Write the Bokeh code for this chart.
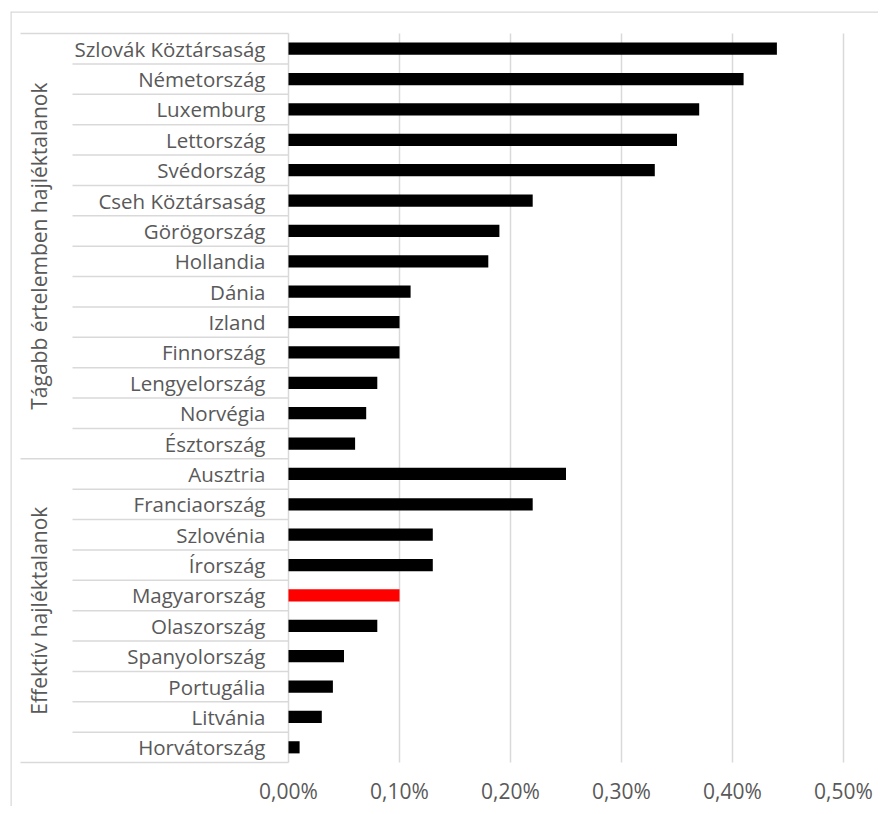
import math
from bokeh.plotting import figure
from bokeh.models import Range1d, FixedTicker, ColumnDataSource, CustomJSTickFormatter
from bokeh.core.properties import value
from bokeh.embed import file_html
from bokeh.resources import INLINE

# ---------------- data ----------------
groups = ["Tágabb értelemben hajléktalanok", "Effektív hajléktalanok"]

group1_countries = ["Szlovák Köztársaság", "Németország", "Luxemburg", "Lettország",
                    "Svédország", "Cseh Köztársaság", "Görögország", "Hollandia",
                    "Dánia", "Izland", "Finnország", "Lengyelország", "Norvégia",
                    "Észtország"]
group1_values = [0.44, 0.41, 0.37, 0.35, 0.33, 0.22, 0.19, 0.18, 0.11, 0.10, 0.10,
                 0.08, 0.07, 0.06]

group2_countries = ["Ausztria", "Franciaország", "Szlovénia", "Írország", "Magyarország",
                    "Olaszország", "Spanyolország", "Portugália", "Litvánia",
                    "Horvátország"]
group2_values = [0.25, 0.22, 0.13, 0.13, 0.10, 0.08, 0.05, 0.04, 0.03, 0.01]

highlight = "Magyarország"

tick_values = [0.0, 0.1, 0.2, 0.3, 0.4, 0.5]
tick_labels = ["0,00%", "0,10%", "0,20%", "0,30%", "0,40%", "0,50%"]

# ---------------- layout (screen pixels) ----------------
W, H = 878, 806
PAGE = 0
FRAME_L, FRAME_T = 10, 11
ZERO_PX, MAX_PX = 288, 843          # x of 0 % and 0.5 %
ROWS_TOP, ROWS_BOT = 33, 762
LABEL_RIGHT_PX = 265
SEP_LONG_PX, SEP_SHORT_PX = 20, 72
GROUP_LABEL_PX = 38

TEXT_COLOR = "#595959"
LINE_COLOR = "#d9d9d9"
FONT = value("Open Sans")
FONT_SIZE = "20.5px"
GROUP_FONT_SIZE = "21px"
TICK_FONT_SIZE = "21px"

countries = group1_countries + group2_countries
values = group1_values + group2_values
n = len(countries)

px_per_x = (MAX_PX - ZERO_PX) / tick_values[-1]
px_per_row = (ROWS_BOT - ROWS_TOP) / n


def xd(px):
    return (px - ZERO_PX) / px_per_x


def yd(py):
    return (ROWS_BOT - py) / px_per_row


p = figure(width=W, height=H,
           x_range=Range1d(xd(FRAME_L), xd(PAGE + W)),
           y_range=Range1d(yd(PAGE + H), yd(FRAME_T)),
           min_border_left=FRAME_L - PAGE, min_border_top=FRAME_T - PAGE,
           min_border_right=0, min_border_bottom=0,
           output_backend="svg", toolbar_location=None,
           x_axis_location="below", y_axis_location=None,
           outline_line_color=None, background_fill_color="white",
           border_fill_color="white")
p.xgrid.visible = False
p.ygrid.visible = False

# outer chart border (top + left)
x0, x1 = p.x_range.start, p.x_range.end
y0, y1 = p.y_range.start, p.y_range.end
p.segment(x0=[x0, x0], y0=[y1, y0], x1=[x1, x0], y1=[y1, y1],
          line_color=LINE_COLOR, line_width=2.5)

# vertical gridlines
p.segment(x0=tick_values, y0=[0] * len(tick_values), x1=tick_values,
          y1=[n] * len(tick_values), line_color=LINE_COLOR, line_width=1.5)

# category separators
n1 = len(group1_countries)
sep_y, sep_x0 = [], []
for k in range(n + 1):
    yk = n - k
    sep_y.append(yk)
    if k in (0, n1, n):
        sep_x0.append(xd(SEP_LONG_PX))
    else:
        sep_x0.append(xd(SEP_SHORT_PX))
p.segment(x0=sep_x0, y0=sep_y, x1=[0] * len(sep_y), y1=sep_y,
          line_color=LINE_COLOR, line_width=1.5)

# bars
centers = [n - i - 0.5 for i in range(n)]
colors = ["#ff0000" if c == highlight else "#000000" for c in countries]
src = ColumnDataSource(dict(y=centers, right=values, color=colors, name=countries))
p.hbar(y="y", left=0, right="right", height=0.4, fill_color="color",
       line_color=None, source=src)

# category labels
p.text(x=[xd(LABEL_RIGHT_PX)] * n, y=centers, text=countries,
       text_align="right", text_baseline="middle", text_font=FONT,
       text_font_size=FONT_SIZE, text_color=TEXT_COLOR)

# group labels
n2 = len(group2_countries)
group_centers = [n - n1 / 2, n2 / 2]
p.text(x=[xd(GROUP_LABEL_PX)] * 2, y=group_centers, text=groups,
       angle=math.pi / 2, text_align="center", text_baseline="middle",
       text_font=FONT, text_font_size=GROUP_FONT_SIZE, text_color=TEXT_COLOR)

# x axis (inside the frame, below the rows)
ax = p.xaxis[0]
ax.fixed_location = 0
ax.bounds = (tick_values[0], tick_values[-1])
ax.ticker = FixedTicker(ticks=tick_values)
ax.formatter = CustomJSTickFormatter(
    args=dict(tick_vals=tick_values, tick_texts=tick_labels),
    code="""
const i = tick_vals.findIndex(t => Math.abs(t - tick) < 1e-9);
return i >= 0 ? tick_texts[i] : "";
""")
ax.axis_line_color = None
ax.major_tick_line_color = None
ax.minor_tick_line_color = None
ax.major_tick_out = 0
ax.major_tick_in = 0
ax.major_label_standoff = 14
ax.major_label_text_font = "Open Sans"
ax.major_label_text_font_size = TICK_FONT_SIZE
ax.major_label_text_color = TEXT_COLOR

open("out.html", "w").write(file_html(p, INLINE))
